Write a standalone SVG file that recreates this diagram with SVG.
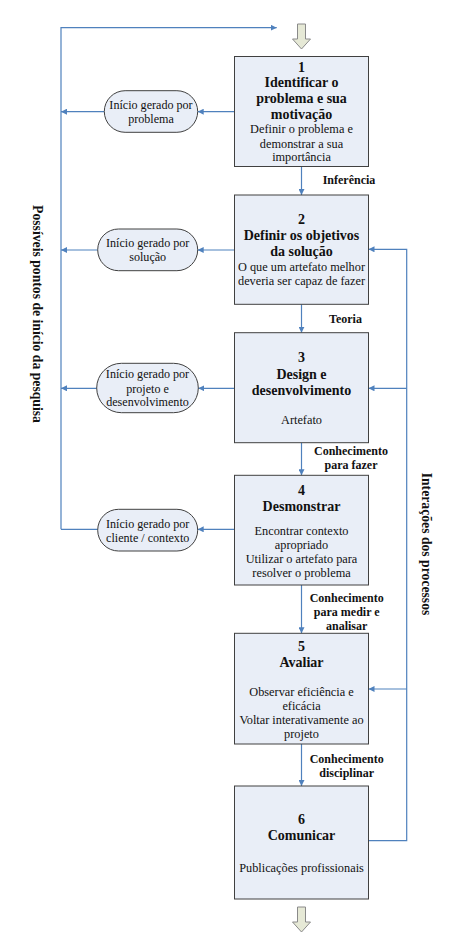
<svg xmlns="http://www.w3.org/2000/svg" width="460" height="934" viewBox="0 0 460 934">
<defs>
<marker id="ah" viewBox="0 0 10 10" refX="10" refY="5" markerWidth="6" markerHeight="6" orient="auto" markerUnits="userSpaceOnUse">
<path d="M0,0 L10,5 L0,10 Z" fill="#4F81BD"/>
</marker>
<style>
.box{fill:#E9EEF7;stroke:#404040;stroke-width:1}
.st{fill:#E9EEF7;stroke:#404040;stroke-width:1}
.con{fill:none;stroke:#4F81BD;stroke-width:1.2}
.arr{marker-end:url(#ah)}
.blk{fill:#E6E9D6;stroke:#8A8A8A;stroke-width:1}
text{font-family:"Liberation Serif","Times New Roman",serif;fill:#111;text-anchor:middle}
.t{font-weight:bold;font-size:14px}
.n{font-size:12.3px}
.e{font-size:12.1px}
.l{font-weight:bold;font-size:12px}
.v{font-weight:bold;font-size:13.7px}
</style>
</defs>
<g id="connectors">
<path class="con arr" d="M61,529.3 L61,27.7 L276.7,27.7"/>
<path class="con arr" d="M104.3,111.7 L61,111.7"/>
<path class="con arr" d="M97.7,250 L61,250"/>
<path class="con arr" d="M96.7,388.3 L61,388.3"/>
<path class="con" d="M97.7,529.3 L61,529.3"/>
<path class="con arr" d="M234.5,111.7 L197.7,111.7"/>
<path class="con arr" d="M234.5,250 L197.7,250"/>
<path class="con arr" d="M234.5,388.3 L198.3,388.3"/>
<path class="con arr" d="M234.5,529.3 L197.7,529.3"/>
<path class="con arr" d="M301.5,166.7 L301.5,195"/>
<path class="con arr" d="M301.5,304.3 L301.5,332.7"/>
<path class="con arr" d="M301.5,442.7 L301.5,475.3"/>
<path class="con arr" d="M301.5,585 L301.5,633.3"/>
<path class="con arr" d="M301.5,744 L301.5,786"/>
<path class="con arr" d="M368.5,840.7 L406.7,840.7 L406.7,249.3 L368.5,249.3"/>
<path class="con arr" d="M406.7,388.3 L368.5,388.3"/>
<path class="con arr" d="M406.7,689 L368.5,689"/>
</g>
<g id="arrow-in"><polygon class="blk" points="297.5,24 305.5,24 305.5,39 310.5,39 301.5,49 292.5,39 297.5,39"/></g>
<g id="arrow-out"><polygon class="blk" points="297.5,907 305.5,907 305.5,922 310.5,922 301.5,932 292.5,922 297.5,922"/></g>
<g id="box1">
<rect class="box" x="234.5" y="56.5" width="134" height="110"/>
<text class="t" x="301.5" y="71.5">1</text>
<text class="t" x="301.5" y="86.5">Identificar o</text>
<text class="t" x="301.5" y="102.5">problema e sua</text>
<text class="t" x="301.5" y="118.5">motivação</text>
<text class="n" x="301.5" y="133">Definir o problema e</text>
<text class="n" x="301.5" y="147.5">demonstrar a sua</text>
<text class="n" x="301.5" y="161">importância</text>
</g>
<g id="box2">
<rect class="box" x="234.5" y="195" width="134" height="109.3"/>
<text class="t" x="301.5" y="224">2</text>
<text class="t" x="301.5" y="239.5">Definir os objetivos</text>
<text class="t" x="301.5" y="256">da solução</text>
<text class="n" x="301.5" y="270.5">O que um artefato melhor</text>
<text class="n" x="301.5" y="284.5">deveria ser capaz de fazer</text>
</g>
<g id="box3">
<rect class="box" x="234.5" y="332.7" width="134" height="110"/>
<text class="t" x="301.5" y="361.5">3</text>
<text class="t" x="301.5" y="379">Design e</text>
<text class="t" x="301.5" y="395">desenvolvimento</text>
<text class="n" x="301.5" y="423.5">Artefato</text>
</g>
<g id="box4">
<rect class="box" x="234.5" y="475.3" width="134" height="109.7"/>
<text class="t" x="301.5" y="495">4</text>
<text class="t" x="301.5" y="511">Desmonstrar</text>
<text class="n" x="301.5" y="534.5">Encontrar contexto</text>
<text class="n" x="301.5" y="548.5">apropriado</text>
<text class="n" x="301.5" y="562.5">Utilizar o artefato para</text>
<text class="n" x="301.5" y="577">resolver o problema</text>
</g>
<g id="box5">
<rect class="box" x="234.5" y="633.3" width="134" height="110.7"/>
<text class="t" x="301.5" y="651">5</text>
<text class="t" x="301.5" y="666.5">Avaliar</text>
<text class="n" x="301.5" y="695.5">Observar eficiência e</text>
<text class="n" x="301.5" y="709.5">eficácia</text>
<text class="n" x="301.5" y="723.5">Voltar interativamente ao</text>
<text class="n" x="301.5" y="737.5">projeto</text>
</g>
<g id="box6">
<rect class="box" x="234.5" y="786" width="134" height="113"/>
<text class="t" x="301.5" y="824">6</text>
<text class="t" x="301.5" y="840">Comunicar</text>
<text class="n" x="301.5" y="872">Publicações profissionais</text>
</g>
<g id="start1">
<rect class="st" x="104.3" y="90.7" width="93.4" height="41.6" rx="20.8"/>
<text class="e" x="151" y="108.5">Início gerado por</text>
<text class="e" x="151" y="122.5">problema</text>
</g>
<g id="start2">
<rect class="st" x="97.7" y="229" width="100" height="41.7" rx="20.8"/>
<text class="e" x="147.7" y="247">Início gerado por</text>
<text class="e" x="147.7" y="261">solução</text>
</g>
<g id="start3">
<rect class="st" x="96.7" y="363.3" width="101.6" height="49.4" rx="24.7"/>
<text class="e" x="147.5" y="377.5">Início gerado por</text>
<text class="e" x="147.5" y="392.5">projeto e</text>
<text class="e" x="147.5" y="406">desenvolvimento</text>
</g>
<g id="start4">
<rect class="st" x="97.7" y="509.3" width="100" height="41.7" rx="20.8"/>
<text class="e" x="147.7" y="527.5">Início gerado por</text>
<text class="e" x="147.7" y="541.5">cliente / contexto</text>
</g>
<g id="labels">
<text class="l" x="349" y="184">Inferência</text>
<text class="l" x="345.5" y="322.5">Teoria</text>
<text class="l" x="351" y="455">Conhecimento</text>
<text class="l" x="351" y="469">para fazer</text>
<text class="l" x="346.7" y="602">Conhecimento</text>
<text class="l" x="346.7" y="616">para medir e</text>
<text class="l" x="346.7" y="630">analisar</text>
<text class="l" x="346.7" y="763">Conhecimento</text>
<text class="l" x="346.7" y="777">disciplinar</text>
<text class="v" transform="translate(38,314) rotate(90)" dy="0.35em">Possíveis pontos de início da pesquisa</text>
<text class="v" transform="translate(426.7,544) rotate(90)" dy="0.35em">Interações dos processos</text>
</g>
</svg>
